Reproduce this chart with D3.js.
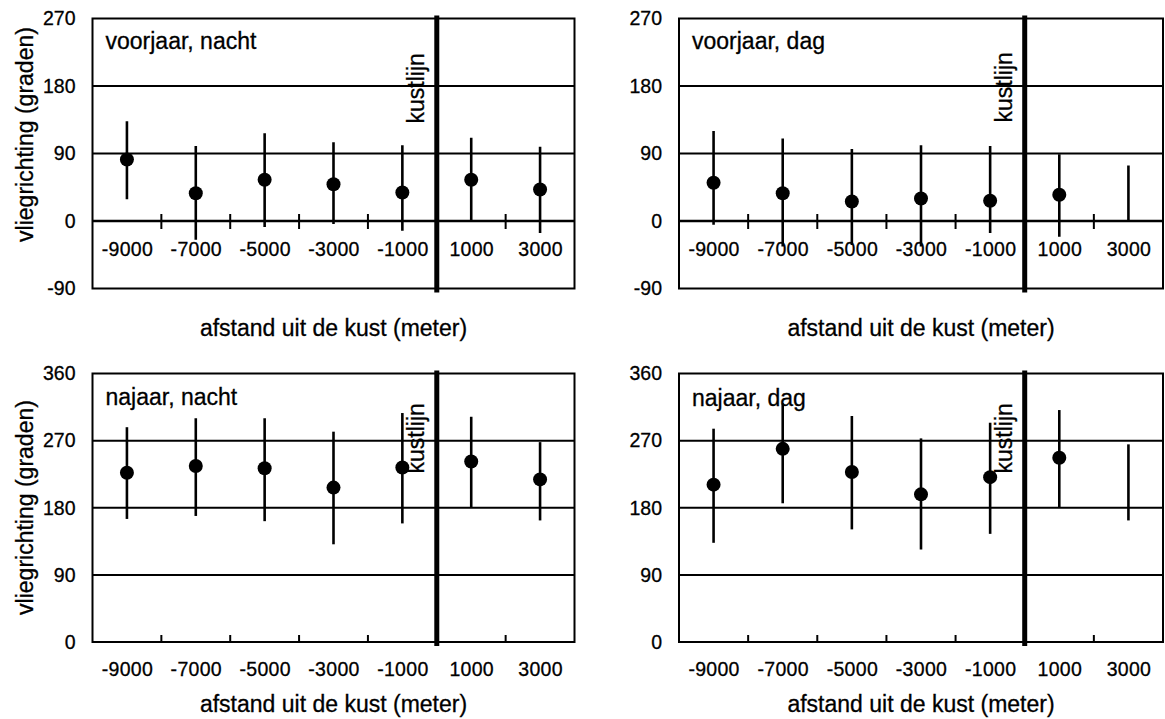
<!DOCTYPE html>
<html>
<head>
<meta charset="utf-8">
<script src="https://cdn.jsdelivr.net/npm/d3@7"></script>
<style>
  body { margin: 0; background: #fff; }
  svg text { font-family: "Liberation Sans", Arial, Helvetica, sans-serif; fill: #000; stroke: #000; stroke-width: 0.3px; }
</style>
</head>
<body>
<div id="chart"></div>
<script>
// afstand uit de kust (meter), one error bar per distance
const distances = [-9000, -7000, -5000, -3000, -1000, 1000, 3000];
const minorTicks = [-8000, -6000, -4000, -2000, 2000];

// voorjaar
const voorjaarNachtMean = [82, 37, 55, 49, 38, 55, 42];
const voorjaarNachtLow = [29, -25, -8, -4, -13, 0, -16];
const voorjaarNachtHigh = [133, 100, 117, 105, 101, 111, 99];

const voorjaarDagMean = [51, 37, 26, 30, 27, 35, null];
const voorjaarDagLow = [-5, -34, -32, -34, -16, -21, 0];
const voorjaarDagHigh = [120, 110, 96, 101, 100, 89, 74];

// najaar
const najaarNachtMean = [227, 236, 233, 207, 234, 242, 218];
const najaarNachtLow = [165, 169, 162, 131, 159, 180, 163];
const najaarNachtHigh = [288, 300, 300, 282, 307, 302, 268];

const najaarDagMean = [211, 259, 228, 198, 221, 247, null];
const najaarDagLow = [133, 186, 151, 124, 145, 181, 163];
const najaarDagHigh = [286, 320, 303, 273, 294, 311, 265];

const voorjaarTicks = [-90, 0, 90, 180, 270];
const voorjaarGrid = [0, 90, 180];
const najaarTicks = [0, 90, 180, 270, 360];
const najaarGrid = [90, 180, 270];

const xTitle = "afstand uit de kust (meter)";
const yTitle = "vliegrichting (graden)";
const coastLabel = "kustlijn";

const svg = d3.select("#chart").append("svg")
    .attr("width", 1165)
    .attr("height", 719);

function drawPanel(opt) {
    const w = opt.width, h = opt.height;
    const g = svg.append("g").attr("transform", `translate(${opt.left},${opt.top})`);

    const x = d3.scaleLinear().domain([-10000, 4000]).range([0, w]);
    const y = d3.scaleLinear().domain(d3.extent(opt.ticks)).range([h, 0]);

    // frame
    g.append("rect")
        .attr("width", w)
        .attr("height", h)
        .attr("fill", "none")
        .attr("stroke", "#000")
        .attr("stroke-width", 2);

    // horizontal lines
    g.selectAll(".grid")
        .data(opt.grid)
        .enter()
        .append("line")
        .attr("class", "grid")
        .attr("x1", 0)
        .attr("x2", w)
        .attr("y1", d => y(d))
        .attr("y2", d => y(d))
        .attr("stroke", "#000")
        .attr("stroke-width", d => d === 0 ? 2.5 : 2);

    // small tick marks between the labels
    const axisY = y(opt.axisValue);
    g.selectAll(".minor")
        .data(minorTicks)
        .enter()
        .append("line")
        .attr("class", "minor")
        .attr("x1", d => x(d))
        .attr("x2", d => x(d))
        .attr("y1", axisY - 7)
        .attr("y2", opt.crossTicks ? axisY + 8 : axisY)
        .attr("stroke", "#000")
        .attr("stroke-width", 2);

    // y axis labels (plain hyphen for negatives, like the original)
    const yAxis = d3.axisLeft(y).tickValues(opt.ticks).tickSize(0).tickPadding(17)
        .tickFormat(d => String(d));
    const ya = g.append("g").call(yAxis);
    ya.select(".domain").remove();
    ya.selectAll("text")
        .style("font-size", "19.5px");

    // x axis labels
    const xAxis = d3.axisBottom(x).tickValues(distances).tickSize(0).tickPadding(0)
        .tickFormat(d => String(d));
    const xa = g.append("g")
        .attr("transform", `translate(0,${axisY + opt.labelOffset})`)
        .call(xAxis);
    xa.select(".domain").remove();
    xa.selectAll("text")
        .attr("dy", 0)
        .attr("y", 0)
        .style("font-size", "19.5px")
        .style("letter-spacing", "0.3px");

    // error bars
    g.selectAll(".bar")
        .data(distances)
        .enter()
        .append("line")
        .attr("class", "bar")
        .attr("x1", d => x(d))
        .attr("x2", d => x(d))
        .attr("y1", (d, i) => y(opt.high[i]))
        .attr("y2", (d, i) => y(opt.low[i]))
        .attr("stroke", "#000")
        .attr("stroke-width", 2.6);

    // means
    g.selectAll(".dot")
        .data(distances.filter((d, i) => opt.mean[i] !== null))
        .enter()
        .append("circle")
        .attr("class", "dot")
        .attr("cx", d => x(d))
        .attr("cy", d => y(opt.mean[distances.indexOf(d)]))
        .attr("r", 7)
        .attr("fill", "#000");

    // coastline
    g.append("line")
        .attr("x1", x(0))
        .attr("x2", x(0))
        .attr("y1", -3)
        .attr("y2", h + 4)
        .attr("stroke", "#000")
        .attr("stroke-width", 5);

    g.append("text")
        .attr("transform", `translate(${x(0) - 13},${opt.coastTextY}) rotate(-90)`)
        .style("font-size", "23px")
        .text(coastLabel);

    // panel title
    g.append("text")
        .attr("x", 13)
        .attr("y", opt.titleY)
        .style("font-size", "23px")
        .text(opt.title);

    // axis titles
    g.append("text")
        .attr("x", w / 2)
        .attr("y", opt.xTitleY)
        .attr("text-anchor", "middle")
        .style("font-size", "23px")
        .text(xTitle);

    if (opt.showYTitle) {
        g.append("text")
            .attr("transform", `translate(-60,${opt.yTitleY}) rotate(-90)`)
            .attr("text-anchor", "middle")
            .style("font-size", "23px")
            .text(yTitle);
    }
}

drawPanel({
    left: 92.5, top: 18.5, width: 482, height: 270,
    ticks: voorjaarTicks, grid: voorjaarGrid, axisValue: 0, crossTicks: true,
    labelOffset: 35, mean: voorjaarNachtMean, low: voorjaarNachtLow, high: voorjaarNachtHigh,
    title: "voorjaar, nacht", titleY: 30, xTitleY: 317, coastTextY: 105,
    showYTitle: true, yTitleY: 116
});

drawPanel({
    left: 679, top: 18.5, width: 484, height: 270,
    ticks: voorjaarTicks, grid: voorjaarGrid, axisValue: 0, crossTicks: true,
    labelOffset: 35, mean: voorjaarDagMean, low: voorjaarDagLow, high: voorjaarDagHigh,
    title: "voorjaar, dag", titleY: 30, xTitleY: 317, coastTextY: 104,
    showYTitle: false
});

drawPanel({
    left: 92.5, top: 373.5, width: 482, height: 268.5,
    ticks: najaarTicks, grid: najaarGrid, axisValue: 0, crossTicks: false,
    labelOffset: 34, mean: najaarNachtMean, low: najaarNachtLow, high: najaarNachtHigh,
    title: "najaar, nacht", titleY: 31, xTitleY: 338, coastTextY: 100,
    showYTitle: true, yTitleY: 134
});

drawPanel({
    left: 679, top: 373.5, width: 484, height: 268.5,
    ticks: najaarTicks, grid: najaarGrid, axisValue: 0, crossTicks: false,
    labelOffset: 34, mean: najaarDagMean, low: najaarDagLow, high: najaarDagHigh,
    title: "najaar, dag", titleY: 32, xTitleY: 338, coastTextY: 100,
    showYTitle: false
});
</script>
</body>
</html>
